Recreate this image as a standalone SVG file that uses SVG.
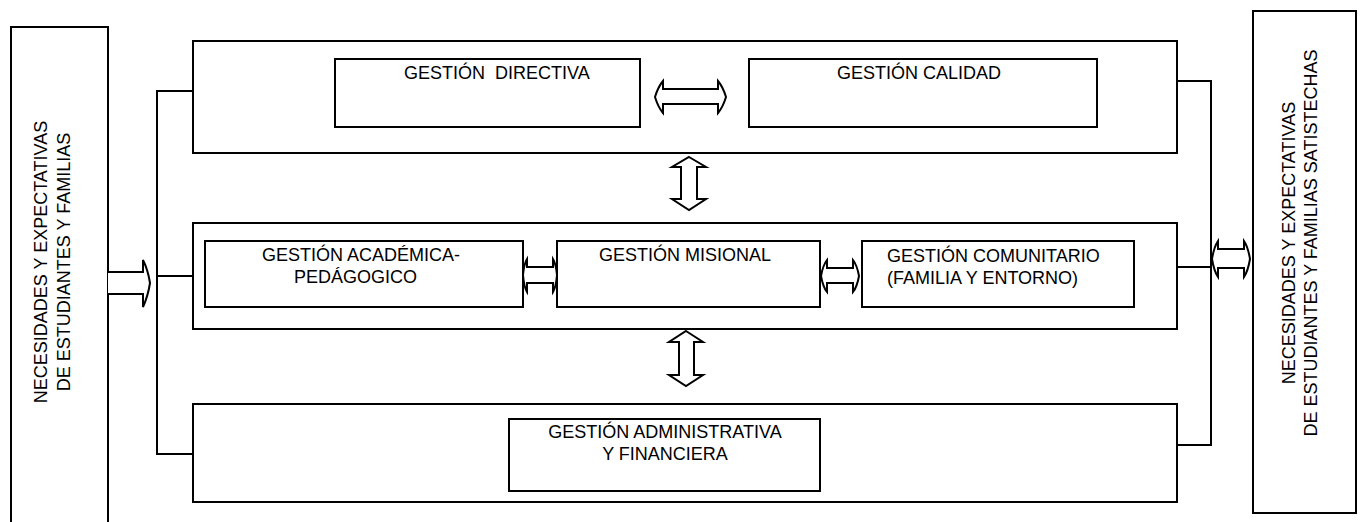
<svg xmlns="http://www.w3.org/2000/svg" width="1366" height="522" viewBox="0 0 1366 522">
<style>
.box{fill:#fff;stroke:#000;stroke-width:2}
.t{font-family:"Liberation Sans",Arial,sans-serif;font-size:18px;fill:#000;white-space:pre}
.ln{fill:none;stroke:#000;stroke-width:2}
.ar{fill:#fff;stroke:#000;stroke-width:2;stroke-linejoin:miter}
</style>
<rect width="1366" height="522" fill="#fff"/>
<g id="input">
<rect class="box" x="11" y="27" width="97" height="510"/>
<text class="t" transform="translate(47,262) rotate(-90)" text-anchor="middle">NECESIDADES Y EXPECTATIVAS</text>
<text class="t" transform="translate(70,262) rotate(-90)" text-anchor="middle">DE ESTUDIANTES Y FAMILIAS</text>
</g>
<g id="output">
<rect class="box" x="1253" y="11" width="103" height="502"/>
<text class="t" transform="translate(1295,243) rotate(-90)" text-anchor="middle">NECESIDADES Y EXPECTATIVAS</text>
<text class="t" transform="translate(1317,243) rotate(-90)" text-anchor="middle">DE ESTUDIANTES Y FAMILIAS SATISTECHAS</text>
</g>
<g id="nivel-directivo">
<rect class="box" x="193" y="41" width="984" height="112"/>
</g>
<g id="nivel-misional">
<rect class="box" x="193" y="223" width="984" height="106"/>
</g>
<g id="nivel-apoyo">
<rect class="box" x="193" y="404" width="984" height="98"/>
</g>
<g id="gestion-directiva">
<rect class="box" x="335" y="59" width="305" height="68"/>
<text class="t" x="404" y="79">GESTIÓN  DIRECTIVA</text>
</g>
<g id="gestion-calidad">
<rect class="box" x="749" y="59" width="348" height="68"/>
<text class="t" x="837" y="79">GESTIÓN CALIDAD</text>
</g>
<g id="gestion-academica">
<rect class="box" x="205" y="241" width="318" height="66"/>
<text class="t" x="262" y="261">GESTIÓN ACADÉMICA-</text>
<text class="t" x="294" y="283">PEDÁGOGICO</text>
</g>
<g id="gestion-misional">
<rect class="box" x="557" y="241" width="263" height="66"/>
<text class="t" x="599" y="261">GESTIÓN MISIONAL</text>
</g>
<g id="gestion-comunitario">
<rect class="box" x="862" y="241" width="272" height="66"/>
<text class="t" x="887" y="262">GESTIÓN COMUNITARIO</text>
<text class="t" x="887" y="284">(FAMILIA Y ENTORNO)</text>
</g>
<g id="gestion-administrativa">
<rect class="box" x="509" y="419" width="311" height="72"/>
<text class="t" x="665" y="438" text-anchor="middle">GESTIÓN ADMINISTRATIVA</text>
<text class="t" x="665" y="460" text-anchor="middle">Y FINANCIERA</text>
</g>
<g id="connectors">
<path class="ln" d="M193,91 H157 V454 H193 M157,276 H193"/>
<path class="ln" d="M1177,81 H1211 V445 H1177 M1177,267 H1211"/>
<path class="ar" d="M108,272 H143 V260 Q148,270 150,283 Q148,296 143,307 V294 H108"/>
<path class="ar" d="M1212,259 Q1214,247 1218,241 V249 H1244 V241 Q1248,247 1250,259 Q1248,271 1244,277 V268 H1218 V277 Q1214,271 1212,259 Z"/>
<path class="ar" d="M655,97 Q658,87 663,81 V89 H718 V81 Q723,87 726,97 Q723,107 718,113 V104 H663 V113 Q658,107 655,97 Z"/>
<path class="ar" d="M689,157 L706,167 H697 V199 H706 L689,210 L672,199 H681 V167 H672 Z"/>
<path class="ar" d="M686,331 L703,342 H694 V375 H703 L686,386 L669,375 H679 V342 H669 Z"/>
<path class="ar" d="M523,275 Q524,264 527,259 V267 H553 V259 Q556,264 557,275 Q556,287 553,292 V283 H527 V292 Q524,287 523,275 Z"/>
<path class="ar" d="M821,276 Q823,265 827,260 V268 H853 V260 Q857,265 859,276 Q857,287 853,292 V283 H827 V292 Q823,287 821,276 Z"/>
</g>
</svg>
